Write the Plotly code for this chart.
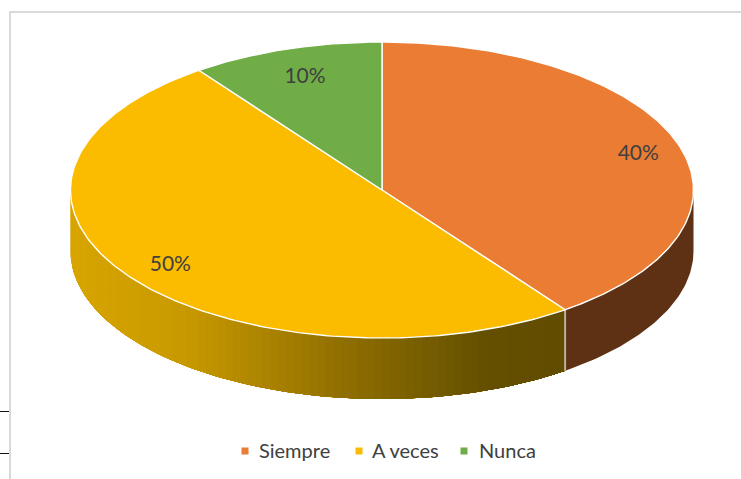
import numpy as np
import plotly.graph_objects as go

# Survey answers, in percent
categories = ["Siempre", "A veces", "Nunca"]
values = [40, 50, 10]
colors = ["#EA7C33", "#FBBC00", "#70AD47"]
label_radius = [0.865, 0.84, 0.80]
label_drop = [4, 3, 0]

# Disc geometry in canvas pixels
CX, CY, RX, RY, DEPTH = 382, 190, 311.5, 148, 61
W, H = 741, 479
TEXT = "#404040"
FONT = "Lato"


def rim(theta_deg, drop=0.0):
    """Points on the disc rim; angles run clockwise from twelve o'clock."""
    t = np.radians(theta_deg)
    return CX + RX * np.sin(t), CY - RY * np.cos(t) + drop


def wall_colour(x):
    stops_x = [70, 180, 343, 480, 565]
    stops_r = [216, 201, 143, 101, 97]
    stops_g = [165, 154, 110, 80, 76]
    return f"rgb({int(np.interp(x, stops_x, stops_r))},{int(np.interp(x, stops_x, stops_g))},0)"


def wall(a, b, colour):
    """Closed band of the outer wall between two rim angles."""
    arc = np.linspace(a, b, max(int(abs(b - a)) + 2, 3))
    x0, y0 = rim(arc)
    x1, y1 = rim(arc[::-1], DEPTH)
    return go.Scatter(
        x=np.r_[x0, x1], y=np.r_[y0, y1], mode="lines", fill="toself",
        fillcolor=colour, line=dict(color=colour, width=0),
        hoverinfo="skip", showlegend=False)


fig = go.Figure()
edges = np.concatenate([[0], np.cumsum(values)]) * 3.6

# Outer wall: only the side facing the viewer (90 to 270 degrees) shows.
fig.add_trace(wall(90, edges[1], "#5F3114"))

# The shaded segment is painted left to right, each band reaching the far end,
# so neighbouring bands never leave a seam between them.
for s in np.arange(270, edges[1], -1.5):
    fig.add_trace(wall(s, edges[1], wall_colour(rim(s)[0])))

# Seam between the two wall segments
sx, sy0 = rim(edges[1])
fig.add_trace(go.Scatter(
    x=[sx, sx], y=[sy0, sy0 + DEPTH], mode="lines",
    line=dict(color="#B8AFA0", width=2), hoverinfo="skip", showlegend=False))

# Top face of the disc
for i, name in enumerate(categories):
    arc = np.linspace(edges[i], edges[i + 1], 200)
    xs, ys = rim(arc)
    fig.add_trace(go.Scatter(
        x=np.r_[CX, xs, CX], y=np.r_[CY, ys, CY], mode="lines", fill="toself",
        fillcolor=colors[i], line=dict(color="#FFFFFF", width=1.4),
        name=name, hoverinfo="name", showlegend=False))

# Percentage labels on the slices
mids = (edges[:-1] + edges[1:]) / 2
lx = [CX + RX * label_radius[i] * np.sin(np.radians(m)) for i, m in enumerate(mids)]
ly = [CY - RY * label_radius[i] * np.cos(np.radians(m)) + label_drop[i] for i, m in enumerate(mids)]
fig.add_trace(go.Scatter(
    x=lx, y=ly, mode="text", text=[f"{v}%" for v in values],
    textposition="middle center",
    textfont=dict(family=FONT, size=21, color=TEXT),
    hoverinfo="skip", showlegend=False))

# Legend row
key_x = [245, 359, 464]
text_x = [259, 372, 479]
fig.add_trace(go.Scatter(
    x=key_x, y=[451] * 3, mode="markers",
    marker=dict(symbol="square", size=7, color=colors),
    hoverinfo="skip", showlegend=False))
fig.add_trace(go.Scatter(
    x=text_x, y=[453] * 3, mode="text",
    text=categories, textposition="middle right",
    textfont=dict(family=FONT, size=20, color=TEXT),
    hoverinfo="skip", showlegend=False))

frame = dict(type="line", line=dict(color="#D9D9D9", width=2))
tick = dict(type="line", line=dict(color="#111111", width=1))
fig.update_layout(
    width=W, height=H, margin=dict(l=0, r=0, t=0, b=0),
    paper_bgcolor="white", plot_bgcolor="white",
    xaxis=dict(range=[0, W], visible=False, fixedrange=True),
    yaxis=dict(range=[H, 0], visible=False, fixedrange=True),
    shapes=[
        dict(frame, x0=10, x1=10, y0=12, y1=H),
        dict(frame, x0=9, x1=W, y0=12, y1=12),
        dict(tick, x0=0, x1=9, y0=411.5, y1=411.5),
        dict(tick, x0=0, x1=9, y0=453.5, y1=453.5),
    ],
)
fig.write_html("out.html")
